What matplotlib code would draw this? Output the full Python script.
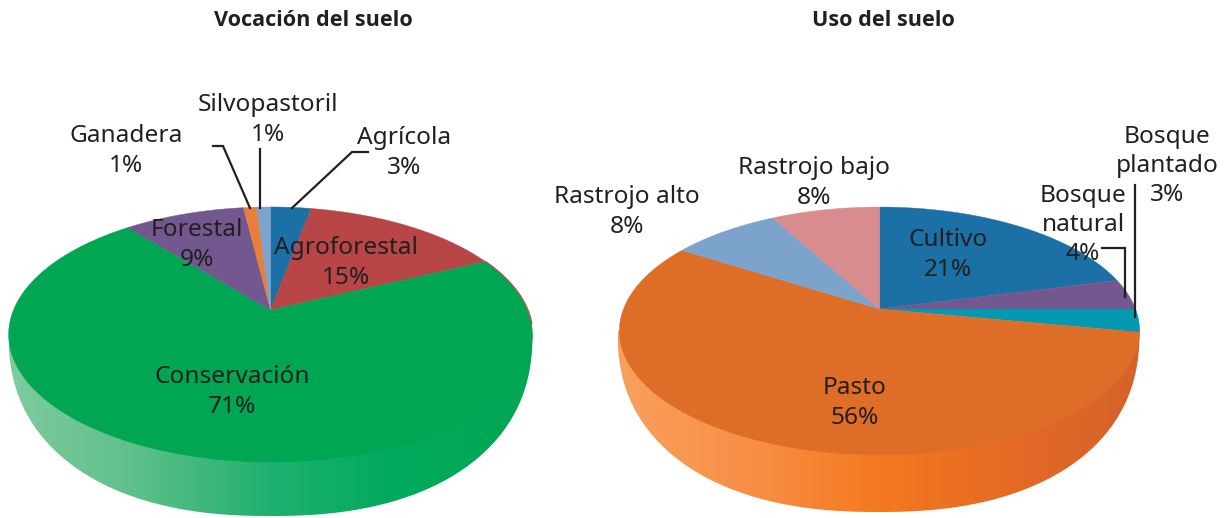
import numpy as np
import matplotlib
matplotlib.use('Agg')
import matplotlib.pyplot as plt
from matplotlib.colors import LinearSegmentedColormap
from matplotlib.patches import Polygon

vocacion_names = ['Agrícola', 'Agroforestal', 'Conservación', 'Forestal', 'Ganadera', 'Silvopastoril']
vocacion_values = [3, 15, 71, 9, 1, 1]
vocacion_colors = ['#1b70a6', '#b84646', '#00a651', '#735890', '#e67e3c', '#7ba3cc']

uso_names = ['Cultivo', 'Bosque\nnatural', 'Bosque\nplantado', 'Pasto', 'Rastrojo alto', 'Rastrojo bajo']
uso_values = [21, 4, 3, 56, 8, 8]
uso_colors = ['#1b70a6', '#735890', '#0499b0', '#de6e27', '#7ba3cc', '#d98c8e']

TEXT = '#231f20'
LABEL_FONT = ['Noto Sans', 'DejaVu Sans']


def project(theta, cx, cy, a, b, k):
    # clockwise angle from 12 o'clock, the near side of the disc looks bigger
    v = -np.cos(theta)
    d = 1 - k * v
    return cx + a * np.sin(theta) / d, cy + b * v / d


def draw_side(ax, cx, cy, a, b, stops):
    t = np.linspace(0, np.pi, 300)
    n = 2.3
    x = cx + a * np.sign(np.cos(t)) * np.abs(np.cos(t)) ** (2 / n)
    y = cy + b * np.abs(np.sin(t)) ** (2 / n)
    clip = Polygon(np.column_stack([x, y]), closed=True, transform=ax.transData, fc='none', ec='none')
    ax.add_patch(clip)
    cmap = LinearSegmentedColormap.from_list('side', stops)
    im = ax.imshow(np.linspace(0, 1, 256)[None, :], cmap=cmap, aspect='auto',
                   extent=(cx - a, cx + a, cy + b, cy - 30), zorder=1)
    im.set_clip_path(clip)


def draw_top(ax, values, colors, cx, cy, a, b, k):
    edges = np.cumsum([0] + list(values)) / sum(values) * 2 * np.pi
    for start, end, color in zip(edges[:-1], edges[1:], colors):
        t = np.linspace(start, end, 200)
        x, y = project(t, cx, cy, a, b, k)
        ax.fill(np.r_[cx, x], np.r_[cy, y], facecolor=color, edgecolor=color, lw=0.3, zorder=2)
    return edges


def draw_labels(ax, names, values, places):
    for name, value, (x, y) in zip(names, values, places):
        ax.text(x, y, f'{name}\n{value}%', ha='center', va='center', color=TEXT,
                fontsize=17.6, family=LABEL_FONT, linespacing=1.29, zorder=5)


fig = plt.figure(figsize=(12.29, 5.18), dpi=100)
ax = fig.add_axes([0, 0, 1, 1])

# left pie
draw_side(ax, 270.5, 333, 262, 183,
          ['#7fcb9f', '#5cbf88', '#1fb06f', '#00aa5c', '#00a651'])
edges = draw_top(ax, vocacion_values, vocacion_colors, 270.5, 310, 257, 122.8, 0.192)
t = np.linspace(edges[2], edges[2] + 0.55, 50)
ax.plot(*project(t, 270.5, 310, 257.5, 122.8, 0.192), color='#b84646', lw=0.8, zorder=3)
draw_labels(ax, vocacion_names, vocacion_values,
            [(404, 153), (346, 263), (232, 392), (197, 245), (126, 151), (268, 120)])

# right pie
draw_side(ax, 878.5, 331, 261, 181,
          ['#f9a05e', '#f88f45', '#f47920', '#e56a25', '#d4622a'])
draw_top(ax, uso_values, uso_colors, 879.5, 309, 256, 120, 0.177)
draw_labels(ax, uso_names, uso_values,
            [(948, 255), (1083, 225), (1167, 166), (855, 403), (627, 212), (814, 183)])

# leader lines
leaders = [[(213, 146), (223, 146), (250, 208)],
           [(260, 149), (260, 208)],
           [(368, 152), (352, 152), (292, 208)],
           [(1102, 248), (1125, 248), (1125, 297)],
           [(1135, 185), (1135, 317)]]
for pts in leaders:
    xs, ys = zip(*pts)
    ax.plot(xs, ys, color=TEXT, lw=1.6, solid_joinstyle='miter', zorder=4)

ax.text(313.5, 21, 'Vocación del suelo', ha='center', va='center', color=TEXT,
        fontsize=15.6, fontweight='bold', family=['Open Sans', 'DejaVu Sans'])
ax.text(883, 21, 'Uso del suelo', ha='center', va='center', color=TEXT,
        fontsize=15.6, fontweight='bold', family=['Open Sans', 'DejaVu Sans'])

ax.set_xlim(0, 1229)
ax.set_ylim(518, 0)
ax.axis('off')

plt.savefig('out.png', dpi=100)
